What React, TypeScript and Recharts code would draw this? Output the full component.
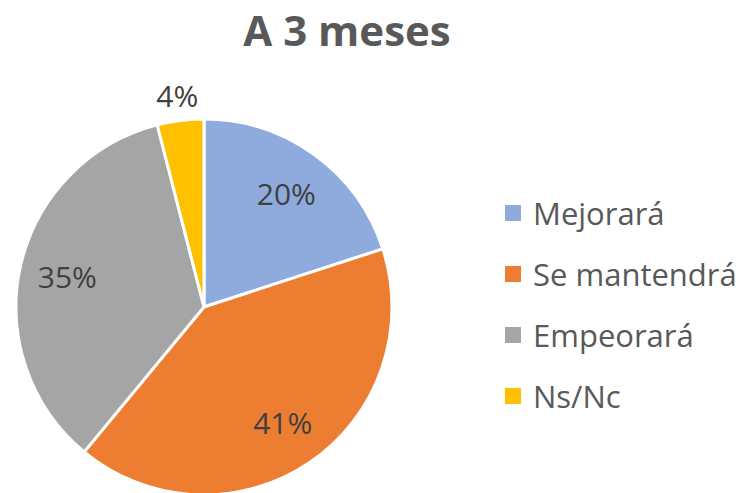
import { PieChart, Pie, Cell, Legend } from "recharts";

// ── Data ──────────────────────────────────────────────────────────────────────

const CATEGORIES = ["Mejorará", "Se mantendrá", "Empeorará", "Ns/Nc"];
const VALUES = [20, 41, 35, 4];
const COLORS = ["#8FAADC", "#ED7D31", "#A5A5A5", "#FFC000"];

const data = CATEGORIES.map((name, i) => ({ name, value: VALUES[i] }));

const FONT = "'Open Sans', Lato, sans-serif";
const RAD = Math.PI / 180;

// ── Labels ────────────────────────────────────────────────────────────────────

function SliceLabel(props: any) {
  const { cx, cy, midAngle, outerRadius, index, value } = props;
  // the small slice gets its label outside
  const r = index === 3 ? outerRadius + 25 : outerRadius * 0.745;
  const x = cx + r * Math.cos(-midAngle * RAD);
  const y = cy + r * Math.sin(-midAngle * RAD);
  return (
    <text
      x={x}
      y={y}
      fill="#404040"
      fontSize={30}
      fontFamily={FONT}
      textAnchor="middle"
      dominantBaseline="central"
    >
      {`${value}%`}
    </text>
  );
}

function LegendList() {
  return (
    <div style={{ fontFamily: FONT }}>
      {data.map((d, i) => (
        <div
          key={d.name}
          style={{ display: "flex", alignItems: "center", height: 61 }}
        >
          <span
            style={{
              width: 16,
              height: 16,
              background: COLORS[i],
              marginRight: 12,
              flexShrink: 0,
            }}
          />
          <span style={{ fontSize: 31, color: "#595959", whiteSpace: "nowrap" }}>
            {d.name}
          </span>
        </div>
      ))}
    </div>
  );
}

// ── Chart ─────────────────────────────────────────────────────────────────────

export default function App() {
  return (
    <div
      style={{
        position: "fixed",
        left: 0,
        top: 0,
        width: 745,
        height: 493,
        background: "#fff",
        overflow: "hidden",
      }}
    >
      <div
        style={{
          position: "absolute",
          left: 0,
          top: 1,
          width: 694,
          textAlign: "center",
          fontFamily: FONT,
          fontWeight: 700,
          fontSize: 42,
          color: "#595959",
        }}
      >
        A 3 meses
      </div>
      <PieChart width={745} height={520} margin={{ top: 0, right: 0, bottom: 0, left: 0 }}>
        <Pie
          data={data}
          dataKey="value"
          nameKey="name"
          cx={204}
          cy={307}
          outerRadius={188}
          startAngle={90}
          endAngle={-270}
          stroke="#fff"
          strokeWidth={3}
          label={SliceLabel}
          labelLine={false}
          isAnimationActive={false}
        >
          {data.map((d, i) => (
            <Cell key={d.name} fill={COLORS[i]} />
          ))}
        </Pie>
        <Legend
          content={<LegendList />}
          wrapperStyle={{ position: "absolute", left: 505, top: 182, width: 240 }}
        />
      </PieChart>
    </div>
  );
}
